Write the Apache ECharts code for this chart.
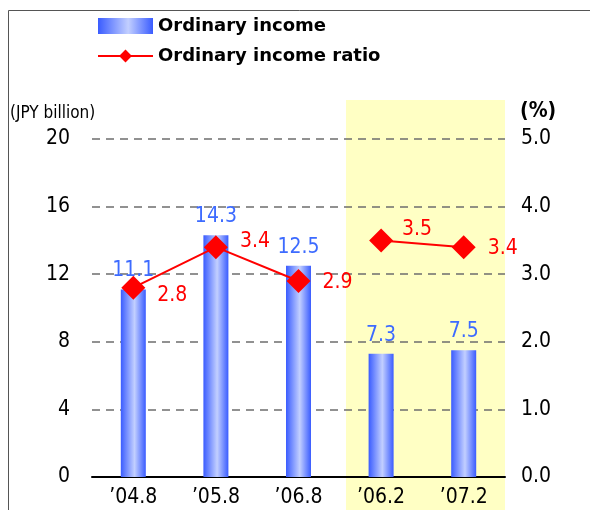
<!DOCTYPE html>
<html>
<head>
<meta charset="utf-8">
<script src="https://cdn.jsdelivr.net/npm/echarts@6/dist/echarts.min.js"></script>
<style>
  html, body { margin: 0; padding: 0; background: #fff; }
  #main { width: 590px; height: 510px; }
</style>
</head>
<body>
<div id="main"></div>
<script>
// data --------------------
var categories = ['\u201904.8', '\u201905.8', '\u201906.8', '\u201906.2', '\u201907.2'];
var incomeValues = [11.1, 14.3, 12.5, 7.3, 7.5];   // JPY billion
var ratioValues = [2.8, 3.4, 2.9, 3.5, 3.4];       // %
var leftTicks = [0, 20, 4];    // min, max, interval
var rightTicks = [0, 5, 1];
var splitAt = 3;   // the line breaks between '06.8 and '06.2

var narrow = "'Liberation Sans Narrow', 'DejaVu Sans Condensed', sans-serif";

var myChart = echarts.init(document.getElementById('main'));

// the ratio line is drawn in two pieces
var ratioA = ratioValues.map(function (v, i) { return i < splitAt ? v : '-'; });
var ratioB = ratioValues.map(function (v, i) { return i >= splitAt ? v : '-'; });

// label placement per point
var ratioLabel = [
    {position: 'right', distance: 12, offset: [0, 8]},
    {position: 'right', distance: 12, offset: [0, -6]},
    {position: 'right', distance: 12, offset: [0, 2]},
    {position: 'top', distance: 4, offset: [36, 16]},
    {position: 'right', distance: 12, offset: [0, 1]}
];
function withLabels(arr) {
    return arr.map(function (v, i) {
        if (v === '-') return v;
        return {value: v, label: ratioLabel[i]};
    });
}

var barColor = new echarts.graphic.LinearGradient(0, 0, 1, 0, [
    {offset: 0, color: '#3a5cff'},
    {offset: 0.55, color: '#c2cfff'},
    {offset: 1, color: '#3a5cff'}
]);

var lineLabel = {
    show: true,
    color: '#ff0000',
    fontFamily: narrow,
    fontSize: 21
};

var option = {
    animation: false,
    textStyle: {fontFamily: narrow},
    legend: {
        orient: 'vertical',
        left: 92,
        top: 12,
        itemWidth: 55,
        itemHeight: 16,
        itemGap: 12,
        textStyle: {
            fontFamily: "'DejaVu Sans', sans-serif",
            fontWeight: 'bold',
            fontSize: 18,
            color: '#000'
        },
        data: [
            {name: 'Ordinary income', icon: 'rect'},
            {name: 'Ordinary income ratio'}
        ]
    },
    grid: {left: 92, right: 85, top: 139, bottom: 33},
    graphic: [
        {
            type: 'rect', z: -10, silent: true,
            shape: {x: 346, y: 100, width: 159, height: 410},
            style: {fill: '#ffffc4'}
        },
        {
            type: 'line', silent: true,
            shape: {x1: 8.5, y1: 10.5, x2: 590, y2: 10.5},
            style: {stroke: '#555', lineWidth: 1}
        },
        {
            type: 'line', silent: true,
            shape: {x1: 8.5, y1: 10.5, x2: 8.5, y2: 510},
            style: {stroke: '#555', lineWidth: 1}
        }
    ],
    xAxis: {
        type: 'category',
        data: categories,
        axisLine: {lineStyle: {color: '#000', width: 2}},
        axisTick: {show: false},
        axisLabel: {color: '#000', fontFamily: narrow, fontSize: 21, margin: 10}
    },
    yAxis: [
        {
            type: 'value',
            min: leftTicks[0], max: leftTicks[1], interval: leftTicks[2],
            name: '(JPY billion)',
            nameGap: 17,
            nameTextStyle: {color: '#000', fontFamily: narrow, fontSize: 17, align: 'left', padding: [0, 0, 0, -82]},
            axisLine: {show: false},
            axisTick: {show: false},
            axisLabel: {color: '#000', fontFamily: narrow, fontSize: 21, margin: 22},
            splitLine: {lineStyle: {color: '#6e6e6e', type: [8, 6], width: 1.5}}
        },
        {
            type: 'value',
            min: rightTicks[0], max: rightTicks[1], interval: rightTicks[2],
            name: '(%)',
            nameGap: 17,
            nameTextStyle: {color: '#000', fontFamily: narrow, fontSize: 21, fontWeight: 'bold', align: 'left', padding: [0, 0, 0, 15]},
            axisLine: {show: false},
            axisTick: {show: false},
            axisLabel: {
                color: '#000', fontFamily: narrow, fontSize: 21, margin: 16,
                formatter: function (v) { return v.toFixed(1); }
            },
            splitLine: {show: false}
        }
    ],
    series: [
        {
            name: 'Ordinary income',
            type: 'bar',
            barWidth: 25,
            itemStyle: {color: barColor},
            label: {
                show: true, position: 'top', distance: 8,
                color: '#3d6bff', fontFamily: narrow, fontSize: 21,
                formatter: function (p) { return p.value.toFixed(1); }
            },
            data: incomeValues
        },
        {
            name: 'Ordinary income ratio',
            type: 'line',
            yAxisIndex: 1,
            symbol: 'diamond',
            symbolSize: 24,
            itemStyle: {color: '#ff0000'},
            lineStyle: {color: '#ff0000', width: 2},
            label: lineLabel,
            z: 5,
            data: withLabels(ratioA)
        },
        {
            name: 'Ordinary income ratio',
            type: 'line',
            yAxisIndex: 1,
            symbol: 'diamond',
            symbolSize: 24,
            itemStyle: {color: '#ff0000'},
            lineStyle: {color: '#ff0000', width: 2},
            label: lineLabel,
            z: 5,
            data: withLabels(ratioB)
        }
    ]
};

myChart.setOption(option);
</script>
</body>
</html>
